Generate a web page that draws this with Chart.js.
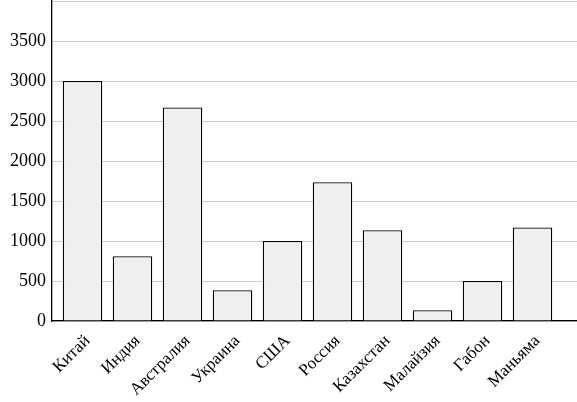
<!DOCTYPE html>
<html>
<head>
<meta charset="utf-8">
<script src="https://cdn.jsdelivr.net/npm/chart.js@4"></script>
<style>
  html, body { margin: 0; padding: 0; background: #fff; }
  #wrap { width: 577px; height: 402px; position: relative; }
</style>
</head>
<body>
<div id="wrap"><canvas id="c" width="577" height="402"></canvas></div>
<script>
const categories = ["Китай", "Индия", "Австралия", "Украина", "США", "Россия", "Казахстан", "Малайзия", "Габон", "Маньяма"];
const values = [3000, 810, 2670, 385, 1000, 1735, 1135, 135, 500, 1170];
const yTicks = [0, 500, 1000, 1500, 2000, 2500, 3000, 3500];

const points = categories.map((c, i) => ({ x: i, y: values[i] }));
const yFont = { family: "'Liberation Serif', 'DejaVu Serif', serif", size: 18 };
const xFont = { family: "'Liberation Serif', 'DejaVu Serif', serif", size: 17 };

new Chart(document.getElementById('c'), {
  type: 'bar',
  data: {
    datasets: [{
      data: points,
      backgroundColor: '#efefef',
      borderColor: '#000',
      borderWidth: 1.3,
      categoryPercentage: 1,
      barPercentage: 0.79
    }]
  },
  options: {
    responsive: false,
    animation: false,
    events: [],
    layout: { padding: { top: 1, right: 0, left: 0, bottom: 0 } },
    plugins: { legend: { display: false }, tooltip: { enabled: false } },
    scales: {
      x: {
        type: 'linear',
        offset: false,
        min: -0.61,
        max: 9.89,
        grid: { display: true, offset: false, color: 'rgba(0,0,0,0)', drawTicks: false },
        border: { display: true, color: '#000', width: 1.3 },
        ticks: {
          stepSize: 1,
          includeBounds: false,
          autoSkip: false,
          maxRotation: 45,
          minRotation: 45,
          padding: 10,
          labelOffset: 5,
          color: '#000',
          font: xFont,
          callback: (v) => Number.isInteger(v) && categories[v] !== undefined ? categories[v] : ''
        },
        afterFit: (s) => { s.height = 81; s.paddingLeft = 0; s.paddingRight = 0; }
      },
      y: {
        min: 0,
        max: 4000,
        grid: { color: '#cccccc', lineWidth: 1, drawTicks: false },
        border: { display: true, color: '#000', width: 1.3 },
        ticks: {
          stepSize: 500,
          padding: 6,
          color: '#000',
          font: yFont,
          callback: (v) => yTicks.includes(v) ? String(v) : ''
        },
        afterFit: (s) => { s.width = 52; s.paddingTop = 0; s.paddingBottom = 0; }
      }
    }
  }
});
</script>
</body>
</html>
